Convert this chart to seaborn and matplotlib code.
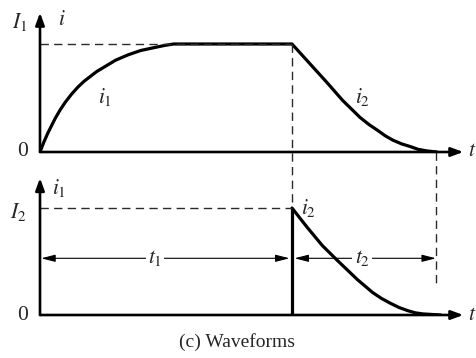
"""Waveforms of i1 and i2 (textbook style figure)."""

import matplotlib
matplotlib.use("Agg")
import matplotlib.pyplot as plt
import pandas as pd
import seaborn as sns

# values (time in arbitrary units, current normalised)
t_rise = [0, 0.15, 0.3, 0.45, 0.6, 0.8, 1.0, 1.25, 1.5, 1.75, 2.0, 2.25, 2.5, 2.75,
          3.0, 3.25, 3.5, 3.75, 4.0, 4.3, 4.6, 4.95, 5.3, 10.0]
i_rise = [0, 0.09, 0.17, 0.24, 0.31, 0.39, 0.46, 0.535, 0.60, 0.655, 0.70, 0.745, 0.78, 0.815,
          0.85, 0.875, 0.90, 0.92, 0.94, 0.955, 0.97, 0.987, 1.0, 1.0]
t_fall_top = [10.0, 10.35, 10.7, 11.05, 11.4, 11.7, 12.0, 12.35, 12.7, 13.05, 13.4, 13.7,
              14.0, 14.35, 14.7, 15.0, 15.35, 15.75]
i_fall_top = [1.0, 0.91, 0.82, 0.73, 0.64, 0.56, 0.48, 0.40, 0.32, 0.255, 0.20, 0.15,
              0.11, 0.075, 0.05, 0.025, 0.01, 0.0]
t_fall_bot = [10.0, 10.3, 10.6, 10.9, 11.2, 11.5, 11.8, 12.2, 12.6, 12.9, 13.2, 13.55,
              13.9, 14.25, 14.6, 14.9, 15.2, 15.9]
i_fall_bot = [1.0, 0.91, 0.82, 0.735, 0.65, 0.58, 0.51, 0.42, 0.33, 0.27, 0.21, 0.155,
              0.11, 0.07, 0.04, 0.02, 0.01, 0.0]
T1 = 10.0
T_END = 15.71

sns.set_theme(style="white")
plt.rcParams["mathtext.fontset"] = "stix"
plt.rcParams["font.family"] = ["Liberation Serif", "DejaVu Serif"]

W, H = 476, 358
fig = plt.figure(figsize=(W / 100, H / 100), dpi=100)
px_t = 25.2

ax1 = fig.add_axes([40 / W, 1 - 152 / H, 436 / W, 142 / H])
ax2 = fig.add_axes([40 / W, 1 - 315 / H, 436 / W, 140 / H])
ax1.set_ylim(0, 142 / 108)
ax2.set_ylim(0, 140 / 107)
for ax in (ax1, ax2):
    ax.set_xlim(0, 436 / px_t)
    ax.axis("off")

CURVE = dict(color="black", linewidth=2.3, legend=False)
DASH = dict(color="#2a2a2a", linewidth=1.0, linestyle=(0, (6, 3.8)), clip_on=False)
TXT = dict(fontsize=15.5, ha="center", va="center")

top = pd.DataFrame({"t": t_rise + t_fall_top[1:], "i": i_rise + i_fall_top[1:]})
sns.lineplot(data=top, x="t", y="i", ax=ax1, sort=False, **CURVE)
bot = pd.DataFrame({"t": t_fall_bot, "i": i_fall_bot})
sns.lineplot(data=bot, x="t", y="i", ax=ax2, sort=False, **CURVE)
ax2.plot([T1, T1], [0, 1.0], color="black", linewidth=2.3, solid_capstyle="butt")

# axes with arrows
AX_ARR = dict(arrowstyle="-|>,head_length=0.6,head_width=0.22", color="black",
              linewidth=1.9, shrinkA=0, shrinkB=0)
for ax, ytop in ((ax1, 1.29), (ax2, 1.28)):
    ax.annotate("", xy=(0, ytop), xytext=(0, 0), arrowprops=AX_ARR, annotation_clip=False)
    ax.annotate("", xy=(16.8, 0), xytext=(0, 0), arrowprops=AX_ARR, annotation_clip=False)

# dashed guides
ax1.plot([0, T1], [1, 1], **DASH)
ax2.plot([0, T1], [1, 1], **DASH)
ax1.plot([T1, T1], [1, -0.52], **DASH)
ax1.plot([T_END, T_END], [0, -1.26], **DASH)

# interval arrows
IV = dict(arrowstyle="<|-|>,head_length=0.7,head_width=0.18", color="black",
          linewidth=0.8, shrinkA=0, shrinkB=0)
ax2.annotate("", xy=(0.05, 0.53), xytext=(T1 - 0.1, 0.53), arrowprops=IV)
ax2.annotate("", xy=(T1 + 0.1, 0.53), xytext=(T_END, 0.53), arrowprops=IV)
lab_box = dict(facecolor="white", edgecolor="none", pad=1.5)
ax2.text(4.56, 0.53, "$t_1$", bbox=lab_box, **TXT)
ax2.text(12.78, 0.53, "$t_2$", bbox=lab_box, **TXT)

# labels, top panel
ax1.text(-0.79, 1.20, "$I_1$", clip_on=False, **TXT)
ax1.text(0.85, 1.22, "$i$", **TXT)
ax1.text(2.58, 0.51, "$i_1$", **TXT)
ax1.text(12.78, 0.51, "$i_2$", **TXT)
ax1.text(-0.71, 0.0, "0", clip_on=False, **TXT)
ax1.text(17.15, 0.0, "$t$", clip_on=False, **TXT)

# labels, bottom panel
ax2.text(0.75, 1.19, "$i_1$", **TXT)
ax2.text(-0.87, 0.96, "$I_2$", clip_on=False, **TXT)
ax2.text(10.65, 1.0, "$i_2$", **TXT)
ax2.text(-0.71, 0.0, "0", clip_on=False, **TXT)
ax2.text(17.15, 0.0, "$t$", clip_on=False, **TXT)

fig.text(0.498, 1 - 342 / H, "(c) Waveforms", fontsize=14, ha="center", va="center")

fig.savefig("out.png", dpi=100, facecolor="white")
